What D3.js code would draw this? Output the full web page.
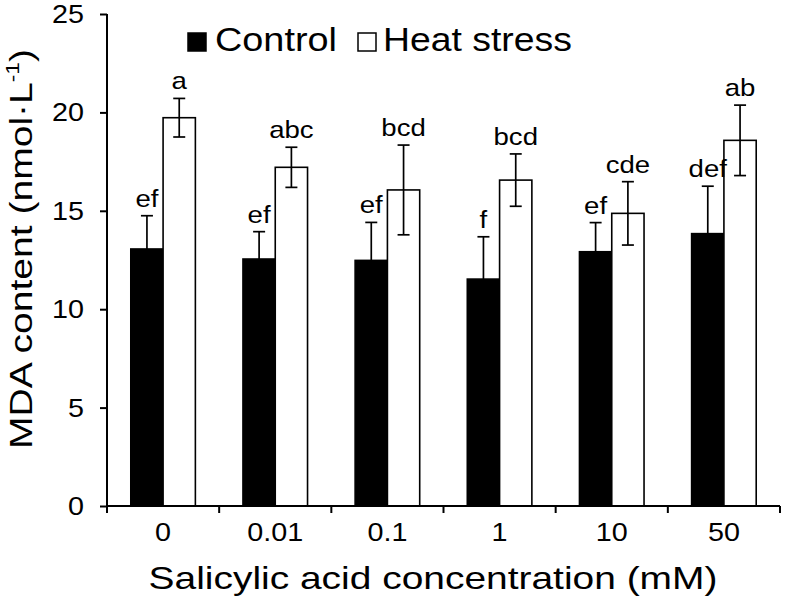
<!DOCTYPE html>
<html>
<head>
<meta charset="utf-8">
<script src="https://cdn.jsdelivr.net/npm/d3@7"></script>
<style>
  html, body { margin: 0; padding: 0; background: #fff; }
  svg text { font-family: "Liberation Sans", Arial, Helvetica, sans-serif; fill: #000; }
</style>
</head>
<body>
<svg id="chart" width="787" height="603"></svg>
<script>
// ---- data ----
const categories = ["0", "0.01", "0.1", "1", "10", "50"];
const seriesNames = ["Control", "Heat stress"];
const controlValues = [13.06, 12.55, 12.48, 11.53, 12.92, 13.84];
const controlErrors = [1.69, 1.39, 1.93, 2.15, 1.48, 2.41];
const heatValues = [19.73, 17.21, 16.06, 16.56, 14.87, 18.58];
const heatErrors = [0.98, 1.02, 2.28, 1.33, 1.61, 1.79];
const controlLetters = ["ef", "ef", "ef", "f", "ef", "def"];
const heatLetters = ["a", "abc", "bcd", "bcd", "cde", "ab"];
const yTickValues = [0, 5, 10, 15, 20, 25];

// ---- layout ----
const svg = d3.select("#chart");
const plot = { left: 107, right: 780, top: 14, bottom: 506 };
const SX = 1.15; // horizontal stretch of the original figure's small texts

const x0 = d3.scaleBand().domain(categories).range([plot.left, plot.right]).paddingInner(0).paddingOuter(0);
const x1 = d3.scaleBand().domain(seriesNames).range([0, x0.bandwidth()]).paddingInner(0).paddingOuter(0.737);
const y = d3.scaleLinear().domain([0, 25]).range([plot.bottom, plot.top]);

const rows = categories.map((c, i) => [
  { cat: c, series: "Control", v: controlValues[i], e: controlErrors[i], letter: controlLetters[i] },
  { cat: c, series: "Heat stress", v: heatValues[i], e: heatErrors[i], letter: heatLetters[i] }
]).flat();

const fills = { "Control": "#000", "Heat stress": "#fff" };
const cxOf = d => x0(d.cat) + x1(d.series) + x1.bandwidth() / 2;

// text helper: places text at (x,y) with horizontal stretch sx (or fit to width)
function label(parent, x, yy, str, size, opts = {}) {
  const g = parent.append("g");
  const t = g.append("text").attr("font-size", size).attr("text-anchor", opts.anchor || "start")
    .attr("fill", opts.fill || "#000").text(str);
  let sx = opts.sx || 1;
  if (opts.width) sx = opts.width / t.node().getBBox().width;
  g.attr("transform", `translate(${x},${yy})` + (opts.rotate ? ` rotate(${opts.rotate})` : "") + ` scale(${sx},1)`);
  return t;
}

// bars
svg.append("g").selectAll("rect").data(rows).join("rect")
  .attr("x", d => x0(d.cat) + x1(d.series))
  .attr("y", d => y(d.v))
  .attr("width", x1.bandwidth())
  .attr("height", d => y(0) - y(d.v))
  .attr("fill", d => fills[d.series])
  .attr("stroke", "#000")
  .attr("stroke-width", 1.6);

// error bars
const eb = svg.append("g").attr("stroke", "#000").attr("stroke-width", 1.7);
rows.forEach(d => {
  const cx = cxOf(d);
  eb.append("line").attr("x1", cx).attr("x2", cx).attr("y1", y(d.v + d.e)).attr("y2", y(d.v - d.e));
  eb.append("line").attr("x1", cx - 6).attr("x2", cx + 6).attr("y1", y(d.v + d.e)).attr("y2", y(d.v + d.e));
  if (d.series !== "Control")
    eb.append("line").attr("x1", cx - 6).attr("x2", cx + 6).attr("y1", y(d.v - d.e)).attr("y2", y(d.v - d.e));
});

// significance letters
const lg = svg.append("g");
rows.forEach(d => label(lg, cxOf(d), y(d.v + d.e) - 9, d.letter, 24, { anchor: "middle", sx: SX }));

// y axis
const yAxis = svg.append("g")
  .attr("transform", `translate(${plot.left},0)`)
  .call(d3.axisLeft(y).tickValues(yTickValues).tickSize(7).tickFormat(""));
yAxis.select(".domain").attr("stroke-width", 2).attr("d", `M0,${plot.top}V${plot.bottom}`);
yAxis.selectAll(".tick line").attr("stroke-width", 2);
const ytl = svg.append("g");
yTickValues.forEach(v => label(ytl, 84, y(v) + 9, String(v), 25, { anchor: "end", sx: SX }));

// x axis
const xAxis = svg.append("g").attr("transform", `translate(0,${plot.bottom})`);
xAxis.append("line").attr("x1", plot.left - 1).attr("x2", plot.right).attr("stroke", "#000").attr("stroke-width", 2);
const boundaries = categories.map(c => x0(c)).concat([x0(categories[categories.length - 1]) + x0.bandwidth()]);
xAxis.selectAll(".bt").data(boundaries).join("line")
  .attr("x1", d => d).attr("x2", d => d).attr("y1", 0).attr("y2", 7)
  .attr("stroke", "#000").attr("stroke-width", 2);
const xtl = svg.append("g");
categories.forEach(c => label(xtl, x0(c) + x0.bandwidth() / 2, 541, c, 25, { anchor: "middle", sx: SX }));

// axis titles
label(svg, 433, 589, "Salicylic acid concentration (mM)", 32, { anchor: "middle", fill: "#222", width: 569 });

const ytg = svg.append("g");
const yt = ytg.append("text").attr("text-anchor", "middle").attr("font-size", 31).attr("fill", "#222");
yt.append("tspan").text("MDA content (nmol·L");
yt.append("tspan").attr("font-size", 18).attr("dy", -13).text("-1");
yt.append("tspan").attr("dy", 13).text(")");
const ytw = yt.node().getBBox().width;
ytg.attr("transform", `translate(32,249) rotate(-90) scale(${400 / ytw},1)`);

// legend
const legend = svg.append("g");
const legItems = [
  { name: seriesNames[0], sx: 188, tx: 215, w: 122 },
  { name: seriesNames[1], sx: 358, tx: 383, w: 189 }
];
legend.selectAll("rect").data(legItems).join("rect")
  .attr("x", d => d.sx).attr("y", 33).attr("width", 18).attr("height", 18)
  .attr("fill", d => fills[d.name]).attr("stroke", "#000").attr("stroke-width", 1.5);
legItems.forEach(d => label(legend, d.tx, 51, d.name, 34, { width: d.w }));
</script>
</body>
</html>
